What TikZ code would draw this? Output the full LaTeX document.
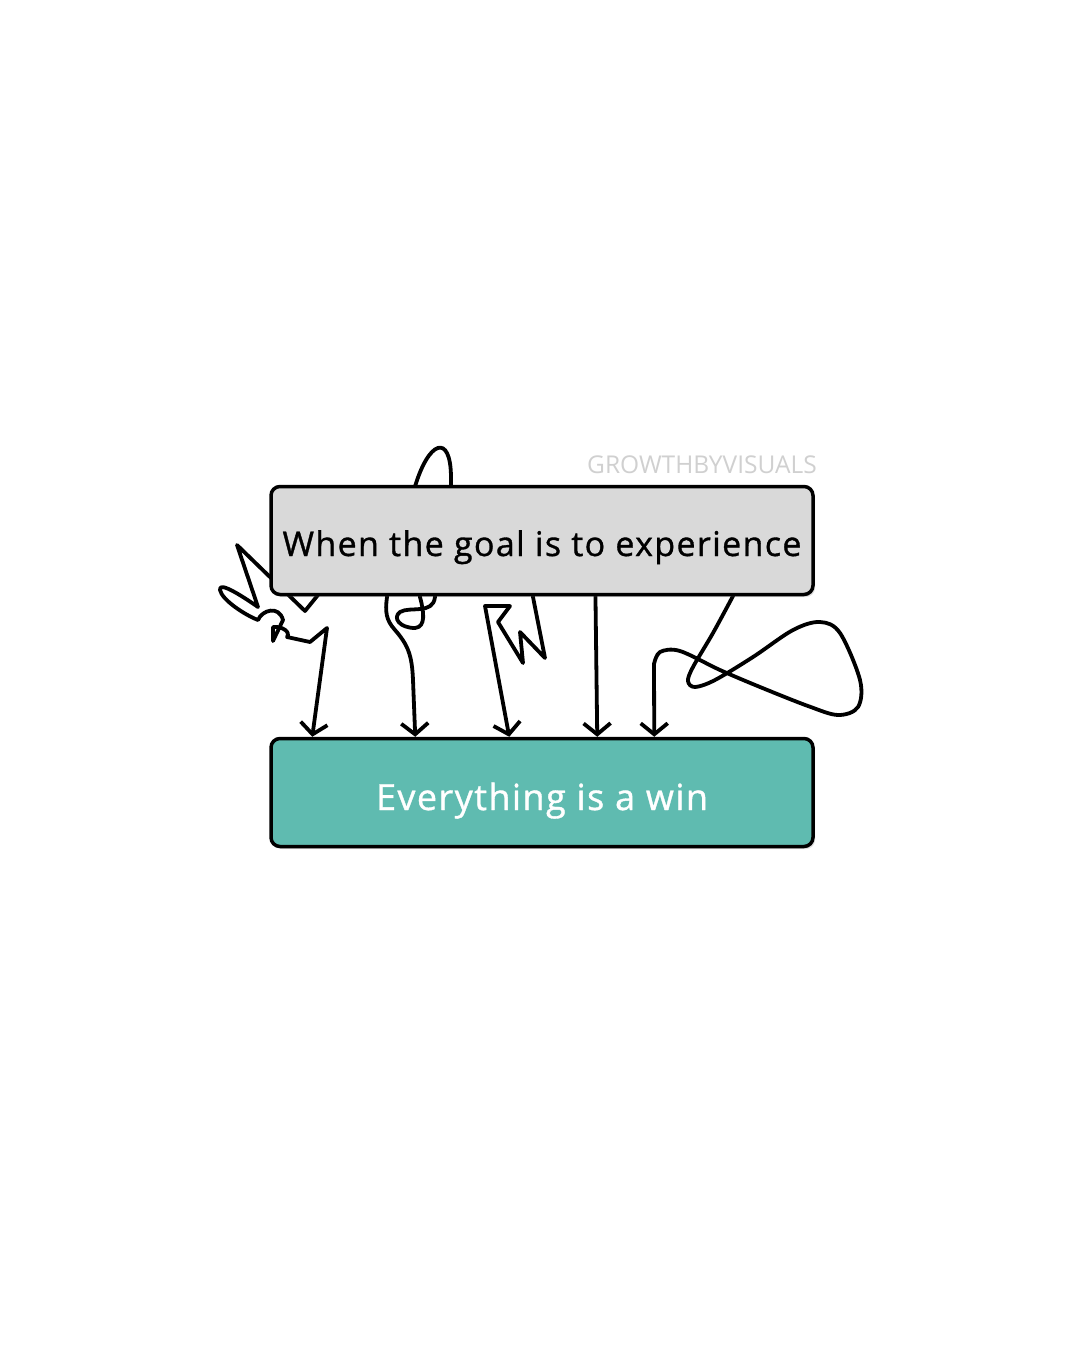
\documentclass[tikz,border=0pt]{standalone}
\usepackage{fontspec}
\setmainfont{Open Sans}
\newfontfamily\handfont[LetterSpace=4,FakeBold=1]{Open Sans}
\usetikzlibrary{arrows.meta,shadows}
\definecolor{boxgray}{HTML}{D9D9D9}
\definecolor{boxteal}{HTML}{5FBBB0}
\definecolor{wmgray}{HTML}{D0D0D0}
\tikzset{
  squig/.style={line width=3.8pt,line cap=round,line join=round,
    -{Straight Barb[length=11pt,width=27pt,line width=3.8pt]}},
  panel/.style={rounded corners=9pt,line width=3.5pt,draw=black,
    minimum width=542pt,minimum height=108pt,inner sep=0pt,
    drop shadow={shadow xshift=2pt,shadow yshift=-2.5pt,opacity=.25}},
  lbl/.style={anchor=base,inner sep=0pt}
}
\begin{document}
\begin{tikzpicture}[x=1pt,y=-1pt]
\useasboundingbox (0,0) rectangle (1080,1350);
\fill[white] (0,0) rectangle (1080,1350);
\path (542,540.5) coordinate (topc) (542,792.5) coordinate (botc);
\node[anchor=base east,inner sep=0pt,text=wmgray,font=\fontsize{24.5}{28}\selectfont] (wm) at (817,473) {GROWTHBYVISUALS};
\node[panel,fill=boxteal] (bot) at (botc) {};
% squiggly connectors (behind top box)
\draw[squig] (322,590) -- (305,611) -- (237,545) -- (258,607)
  .. controls (245,598) and (218,580) .. (220,590)
  .. controls (222,600) and (245,615) .. (258,620)
  .. controls (262,610) and (279,605) .. (283,620)
  -- (273,641) -- (273,627)
  .. controls (282,626) and (291,632) .. (287,637)
  -- (310,642) -- (327,628)
  -- ([xshift=43pt]bot.north west);
\draw[squig] (451,560) -- (451,478)
  .. controls (451,432) and (428,440) .. (414,490)
  -- (420,570) -- (420,597)
  .. controls (424,612) and (426,627) .. (415,628)
  .. controls (400,628) and (392,618) .. (400,612)
  .. controls (410,606) and (433,615) .. (435,597)
  -- (435,570) -- (387,570) -- (387,597)
  .. controls (385,612) and (386,620) .. (395,630)
  .. controls (408,645) and (412,655) .. (413,680)
  -- ([xshift=146pt]bot.north west);
\draw[squig] (533,560) -- (533,597) -- (545,658) -- (520,632) -- (523,663)
  -- (498,622) -- (510,606) -- (485,606) -- ([xshift=240pt]bot.north west);
\draw[squig] (595,560) -- ([xshift=328pt]bot.north west);
\draw[squig] (733,560) -- plot[smooth,tension=0.55] coordinates {(733,596) (713,633) (693,667) (688,681) (695,687) (715,680) (753,657) (793,630) (820,622) (840,633) (860,680) (858,707) (838,715) (808,706) (760,687) (720,670) (680,651) (660,652) (654,664)}
  -- ([xshift=385pt]bot.north west);
% top box over the squiggle starts
\node[panel,fill=boxgray] (top) at (topc) {};
\node[lbl,font=\handfont\fontsize{34}{40}\selectfont] (toptxt) at (542,556) {When the goal is to experience};
\node[lbl,text=white,font=\handfont\fontsize{36}{42}\selectfont] (bottxt) at (542,810) {Everything is a win};
\end{tikzpicture}
\end{document}
